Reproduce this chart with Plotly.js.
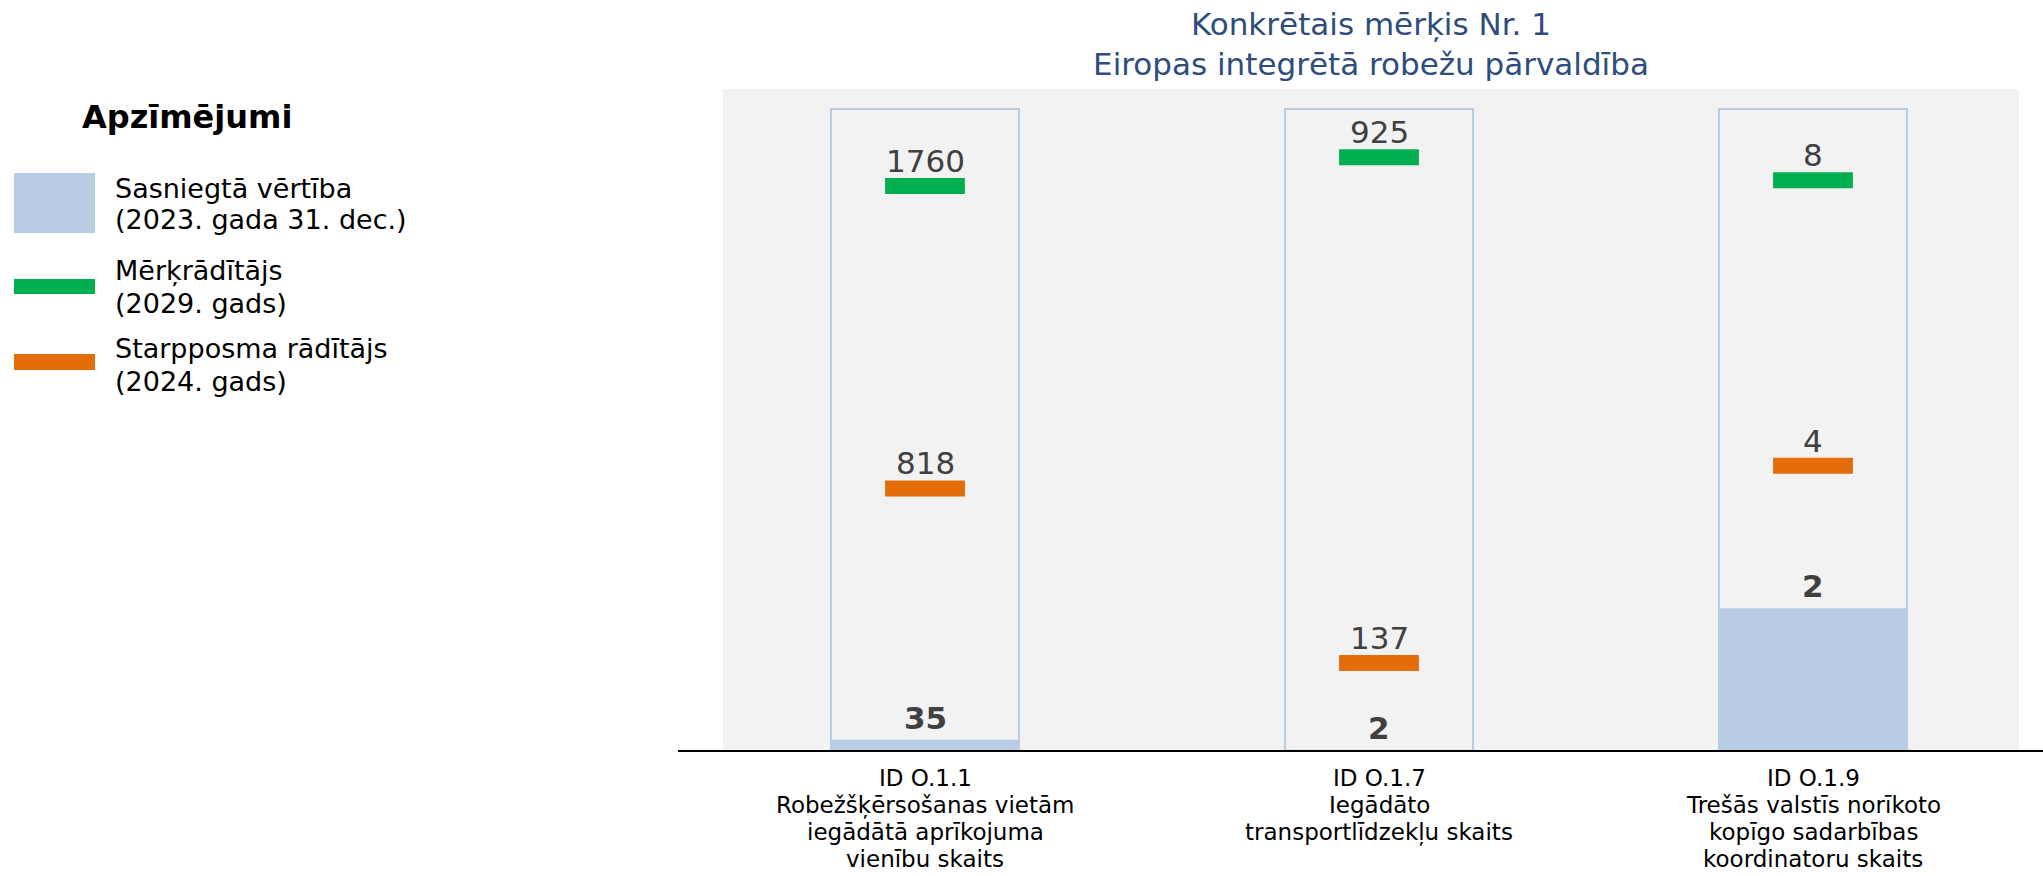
<!DOCTYPE html>
<html>
<head>
<meta charset="utf-8">
<script src="https://cdn.plot.ly/plotly-3.0.1.min.js"></script>
<style>
  body { margin: 0; background: #fff; }
  #chart { width: 2043px; height: 876px; }
</style>
</head>
<body>
<div id="chart"></div>
<script>
// indicator ids and their descriptions (x labels, one entry per line)
var ids = ['ID O.1.1', 'ID O.1.7', 'ID O.1.9'];
var descriptions = [
    ['Robežšķērsošanas vietām', 'iegādātā aprīkojuma', 'vienību skaits'],
    ['Iegādāto', 'transportlīdzekļu skaits'],
    ['Trešās valstīs norīkoto', 'kopīgo sadarbības', 'koordinatoru skaits']
];

// values
var achieved = [35, 2, 2];          // 2023. gada 31. dec.
var targets = [1760, 925, 8];       // 2029. gads
var milestones = [818, 137, 4];     // 2024. gads
var scaleMax = [2000, 1000, 9];     // height of each outlined column

var legendTitle = 'Apzīmējumi';
var legendNames = [
    ['Sasniegtā vērtība', '(2023. gada 31. dec.)'],
    ['Mērķrādītājs', '(2029. gads)'],
    ['Starpposma rādītājs', '(2024. gads)']
];

var blue = '#B8CCE4', green = '#00B050', orange = '#E46C0A';
var font = 'DejaVu Sans, Verdana, sans-serif';

// page geometry in pixels
var W = 2043, H = 876;
var M = {l: 723, r: 24, t: 89, b: 125};
var PW = W - M.l - M.r, PH = H - M.t - M.b;
function px2x(px) { return (px - M.l) / PW; }
function px2y(py) { return (M.t + PH - py) / PH; }

var centers = [925, 1379, 1813];   // column centres, px
var half = 200;                    // half width of each sub plot, px
var colWidth = 188 / (2 * half);   // column width in category units

var data = [];
var layout = {
    width: W,
    height: H,
    margin: M,
    paper_bgcolor: '#ffffff',
    plot_bgcolor: 'rgba(0,0,0,0)',
    showlegend: false,
    barmode: 'overlay',
    font: {family: font, color: '#000000'},
    title: {
        text: 'Konkrētais mērķis Nr. 1<br>Eiropas integrētā robežu pārvaldība',
        font: {family: font, size: 31, color: '#2E4D7B'},
        x: 0.5, xref: 'paper', xanchor: 'center',
        y: 1 - 35 / H, yref: 'container', yanchor: 'middle'
    },
    shapes: [],
    annotations: []
};

// grey panel behind the columns
layout.shapes.push({
    type: 'rect', xref: 'paper', yref: 'paper', x0: 0, x1: 1, y0: 0, y1: 1,
    fillcolor: '#F2F2F2', line: {width: 0}, layer: 'below'
});

for (var i = 0; i < ids.length; i++) {
    var s = i === 0 ? '' : String(i + 1);
    var xa = 'x' + s, ya = 'y' + s;

    // outlined column
    data.push({
        type: 'bar', x: [ids[i]], y: [scaleMax[i]], xaxis: xa, yaxis: ya,
        width: colWidth, hoverinfo: 'skip',
        marker: {color: 'rgba(0,0,0,0)', line: {color: blue, width: 2}}
    });
    // achieved value
    data.push({
        type: 'bar', x: [ids[i]], y: [achieved[i]], xaxis: xa, yaxis: ya,
        width: colWidth, hoverinfo: 'skip',
        marker: {color: blue, line: {width: 0}}
    });
    // target and milestone dashes
    data.push({
        type: 'scatter', mode: 'markers', x: [ids[i]], y: [targets[i]], xaxis: xa, yaxis: ya,
        hoverinfo: 'skip',
        marker: {symbol: 'line-ew', size: 57, color: green, line: {color: green, width: 16}}
    });
    data.push({
        type: 'scatter', mode: 'markers', x: [ids[i]], y: [milestones[i]], xaxis: xa, yaxis: ya,
        hoverinfo: 'skip',
        marker: {symbol: 'line-ew', size: 57, color: orange, line: {color: orange, width: 16}}
    });

    layout['xaxis' + s] = {
        domain: [px2x(centers[i] - half), px2x(centers[i] + half)],
        anchor: ya, type: 'category', range: [-0.5, 0.5],
        showticklabels: false,
        showgrid: false, zeroline: false, showline: false, ticks: '', fixedrange: true
    };
    layout['yaxis' + s] = {
        domain: [0, 1], anchor: xa,
        range: [0, scaleMax[i] * PH / (PH - 20)],
        showgrid: false, zeroline: false, showline: false, showticklabels: false,
        ticks: '', fixedrange: true
    };

    layout.annotations.push({
        xref: xa, yref: ya, x: ids[i], y: targets[i], text: String(targets[i]),
        showarrow: false, yanchor: 'bottom', yshift: 5,
        font: {family: font, size: 31, color: '#404040'}
    });
    layout.annotations.push({
        xref: xa, yref: ya, x: ids[i], y: milestones[i], text: String(milestones[i]),
        showarrow: false, yanchor: 'bottom', yshift: 5,
        font: {family: font, size: 31, color: '#404040'}
    });
    layout.annotations.push({
        xref: xa, yref: ya, x: ids[i], y: achieved[i], text: '<b>' + achieved[i] + '</b>',
        showarrow: false, yanchor: 'bottom', yshift: 2,
        font: {family: font, size: 31, color: '#404040'}
    });

    // category label under the axis, one line at a time
    var lines = [ids[i]].concat(descriptions[i]);
    for (var j = 0; j < lines.length; j++) {
        layout.annotations.push({
            xref: xa, yref: 'paper', x: ids[i], y: px2y(778 + j * 27),
            text: lines[j], showarrow: false, xanchor: 'center', yanchor: 'middle',
            font: {family: font, size: 23, color: '#000000'}
        });
    }
}

// baseline running past the panel
layout.shapes.push({
    type: 'line', xref: 'paper', yref: 'paper', x0: px2x(678), x1: px2x(W), y0: 0, y1: 0,
    line: {color: '#000000', width: 2}, layer: 'above'
});

// legend drawn by hand
layout.annotations.push({
    xref: 'paper', yref: 'paper', x: px2x(80), y: px2y(117), xanchor: 'left', yanchor: 'middle',
    text: '<b>' + legendTitle + '</b>', showarrow: false,
    font: {family: font, size: 32, color: '#000000'}
});
var keyBoxes = [[173, 233], [279, 294], [354, 370]];
var keyColors = [blue, green, orange];
var textY = [204, 287, 365];
for (var k = 0; k < legendNames.length; k++) {
    layout.shapes.push({
        type: 'rect', xref: 'paper', yref: 'paper',
        x0: px2x(14), x1: px2x(95), y0: px2y(keyBoxes[k][1]), y1: px2y(keyBoxes[k][0]),
        fillcolor: keyColors[k], line: {width: 0}
    });
    for (var m = 0; m < legendNames[k].length; m++) {
        layout.annotations.push({
            xref: 'paper', yref: 'paper', x: px2x(113), y: px2y(textY[k] - 16 + m * 32),
            xanchor: 'left', yanchor: 'middle', align: 'left',
            text: legendNames[k][m], showarrow: false,
            font: {family: font, size: 27, color: '#000000'}
        });
    }
}

Plotly.newPlot('chart', data, layout, {displayModeBar: false, staticPlot: true});
</script>
</body>
</html>
